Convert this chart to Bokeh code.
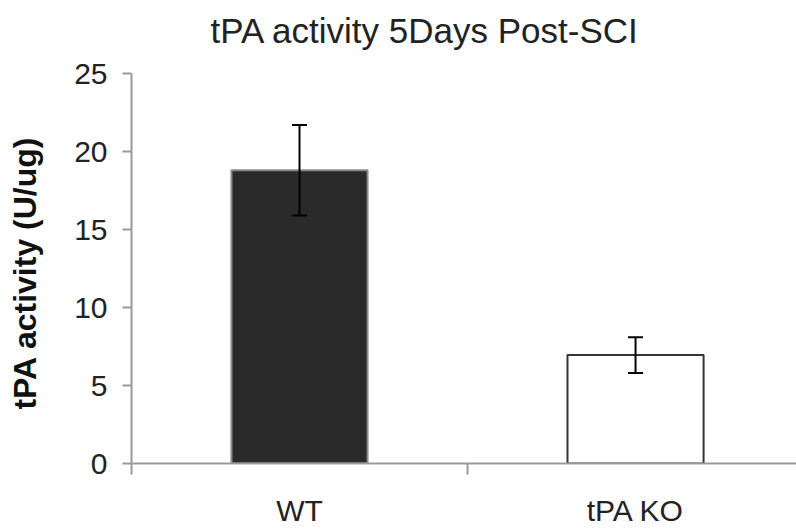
from bokeh.plotting import figure
from bokeh.models import ColumnDataSource, FixedTicker, Whisker, Range1d, Title
from bokeh.embed import file_html
from bokeh.resources import INLINE

title_text = "tPA activity 5Days Post-SCI"
y_title = "tPA activity  (U/ug)"
categories = ["WT", "tPA KO"]
values = [18.8, 6.95]
errors = [2.9, 1.15]
fills = ["#2a2a2a", "#ffffff"]
outlines = ["#8a8a8a", "#333333"]
y_ticks = [0, 5, 10, 15, 20, 25]

xpos = [i + 0.5 for i in range(len(categories))]
src = ColumnDataSource(dict(
    x=xpos, top=values,
    upper=[v + e for v, e in zip(values, errors)],
    lower=[v - e for v, e in zip(values, errors)],
    fill=fills, line=outlines,
))

FONT = "Liberation Sans"

p = figure(width=796, height=529, output_backend="svg", toolbar_location=None,
           x_range=Range1d(0, 1.979), y_range=Range1d(0, 25),
           min_border_left=131, min_border_right=0, min_border_top=73, min_border_bottom=65)
p.outline_line_color = None
p.grid.visible = False
p.background_fill_color = "white"
p.border_fill_color = "white"

p.title.text = title_text
p.title.text_font = FONT
p.title.text_font_size = "35px"
p.title.text_font_style = "normal"
p.title.text_color = "#222222"
p.title.align = "left"
p.title.offset = 79

# spacer between title and frame
spacer = Title(text=" ", text_font_size="16px", standoff=0)
p.add_layout(spacer, "above")

p.vbar(x="x", top="top", width=0.405, source=src, fill_color="fill",
       line_color="line", line_width=2)
w = Whisker(base="x", upper="upper", lower="lower", source=src,
            line_color="black", line_width=2, level="overlay")
w.upper_head.size = 15
w.lower_head.size = 15
w.upper_head.line_width = 2
w.lower_head.line_width = 2
w.upper_head.line_color = "black"
w.lower_head.line_color = "black"
p.add_layout(w)

# x axis
xa = p.xaxis[0]
xa.ticker = FixedTicker(ticks=xpos, minor_ticks=[0, 1, 2])
xa.major_label_overrides = {x: c for x, c in zip(xpos, categories)}
xa.major_tick_line_color = None
xa.major_tick_out = 0
xa.minor_tick_out = 11
xa.minor_tick_in = 0
xa.minor_tick_line_color = "#999999"
xa.minor_tick_line_width = 2
xa.axis_line_color = "#999999"
xa.axis_line_width = 2
xa.major_label_text_font = FONT
xa.major_label_text_font_size = "30px"
xa.major_label_text_color = "#222222"
xa.major_label_standoff = 19

# y axis
ya = p.yaxis[0]
ya.ticker = FixedTicker(ticks=y_ticks, minor_ticks=[])
ya.major_tick_out = 9
ya.major_tick_in = 0
ya.major_tick_line_color = "#999999"
ya.major_tick_line_width = 2
ya.axis_line_color = "#999999"
ya.axis_line_width = 2
ya.major_label_text_font = FONT
ya.major_label_text_font_size = "30px"
ya.major_label_text_color = "#222222"
ya.major_label_standoff = 15
ya.axis_label = y_title
ya.axis_label_text_font = FONT
ya.axis_label_text_font_size = "32px"
ya.axis_label_text_font_style = "bold"
ya.axis_label_text_color = "#111111"
ya.axis_label_standoff = 28

open("out.html", "w").write(file_html(p, INLINE))
